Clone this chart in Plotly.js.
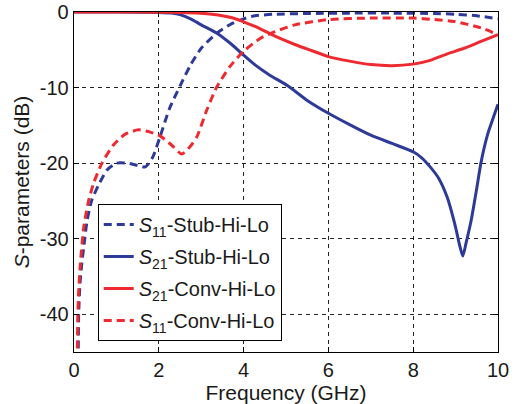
<!DOCTYPE html>
<html>
<head>
<meta charset="utf-8">
<script src="https://cdn.plot.ly/plotly-3.0.1.min.js"></script>
<style>html,body{margin:0;padding:0;background:#fff;}#chart{width:515px;height:404px;}</style>
</head>
<body>
<div id="chart"></div>
<script>
// S11 Stub-Hi-Lo (blue dashed)
const s11StubX = [0.09, 0.1, 0.11, 0.14, 0.18, 0.23, 0.31, 0.42, 0.58, 0.78, 1.01, 1.25, 1.5, 1.68, 1.85, 2.03, 2.25, 2.5, 2.75, 3.0, 3.37, 3.7, 4.0, 4.27, 4.7, 5.5, 6.5, 7.5, 8.5, 9.0, 9.5, 10];
const s11StubY = [-60, -45, -40, -36, -33.5, -31.1, -27.6, -24.9, -22.9, -20.9, -20.0, -20.0, -20.3, -20.5, -19.3, -16.5, -12.8, -9.8, -7.0, -4.8, -2.8, -1.6, -0.9, -0.5, -0.3, -0.2, -0.15, -0.15, -0.2, -0.3, -0.5, -0.9];
// S21 Stub-Hi-Lo (blue solid)
const s21StubX = [0, 1, 2, 2.3, 2.5, 2.75, 3.0, 3.37, 3.7, 4.0, 4.27, 4.6, 5.05, 5.5, 6.0, 6.5, 7.0, 7.5, 8.0, 8.2, 8.4, 8.6, 8.8, 9.0, 9.1, 9.17, 9.25, 9.37, 9.5, 9.6, 9.76, 9.9, 10];
const s21StubY = [0, 0, -0.05, -0.15, -0.35, -0.9, -1.7, -2.8, -4.2, -5.7, -7.0, -8.3, -9.8, -11.7, -13.4, -14.9, -16.3, -17.4, -18.5, -19.3, -20.5, -22.0, -24.5, -28.5, -31.0, -32.3, -30.5, -27.5, -23.3, -19.9, -16.1, -13.8, -12.2];
// S21 Conv-Hi-Lo (red solid)
const s21ConvX = [0, 1, 2, 2.5, 2.98, 3.4, 3.75, 4.0, 4.27, 4.74, 5.21, 5.6, 6.0, 6.5, 7.0, 7.5, 8.0, 8.4, 8.82, 9.2, 9.6, 10];
const s21ConvY = [0, 0, -0.02, -0.05, -0.15, -0.4, -0.8, -1.3, -1.9, -3.2, -4.3, -5.1, -5.9, -6.5, -6.95, -7.1, -6.9, -6.4, -5.5, -4.8, -3.9, -3.0];
// S11 Conv-Hi-Lo (red dashed)
const s11ConvX = [0.07, 0.08, 0.09, 0.11, 0.15, 0.23, 0.34, 0.46, 0.66, 0.93, 1.2, 1.52, 1.8, 2.03, 2.3, 2.54, 2.74, 2.9, 3.13, 3.37, 3.68, 4.0, 4.39, 4.74, 5.21, 6, 7, 8, 8.5, 8.97, 9.6, 10];
const s11ConvY = [-60, -45, -40, -37, -33.3, -28.5, -25.1, -22.7, -20.0, -17.6, -16.2, -15.6, -15.9, -16.4, -17.6, -18.8, -17.8, -16.5, -13.0, -9.9, -7.2, -5.2, -3.5, -2.6, -1.7, -1.0, -0.8, -0.8, -1.0, -1.25, -2.1, -3.0];

const seriesNames = [
  '<i>S</i><sub>11</sub>-Stub-Hi-Lo',
  '<i>S</i><sub>21</sub>-Stub-Hi-Lo',
  '<i>S</i><sub>21</sub>-Conv-Hi-Lo',
  '<i>S</i><sub>11</sub>-Conv-Hi-Lo'
];
const xTicks = [0, 2, 4, 6, 8, 10];
const yTicks = [0, -10, -20, -30, -40];

const blue = '#2E3A97';
const red = '#EC2A30';
const dashPat = '8px,5px';
const fontFam = 'Liberation Sans, Arial, sans-serif';

function tr(x, y, name, color, dash, grp) {
  return {
    x: x, y: y, name: name, type: 'scatter', mode: 'lines',
    line: {color: color, width: 3, dash: dash, shape: 'spline', smoothing: 0.6},
    legendgroup: grp, cliponaxis: true
  };
}

const data = [
  tr(s11StubX, s11StubY, seriesNames[0], blue, dashPat, 'a'),
  tr(s21StubX, s21StubY, seriesNames[1], blue, 'solid', 'b'),
  tr(s21ConvX, s21ConvY, seriesNames[2], red, 'solid', 'c'),
  tr(s11ConvX, s11ConvY, seriesNames[3], red, dashPat, 'd')
];

const axisCommon = {
  showline: true, linecolor: '#000', linewidth: 1.3, mirror: 'ticks',
  ticks: 'inside', ticklen: 5, tickcolor: '#000', tickwidth: 1,
  showgrid: true, gridcolor: '#222', gridwidth: 1, griddash: '4px,4px',
  zeroline: false,
  tickfont: {family: fontFam, size: 20, color: '#1a1a1a'}
};

const layout = {
  width: 515, height: 404,
  margin: {l: 74, r: 17, t: 12, b: 52},
  paper_bgcolor: '#fff', plot_bgcolor: '#fff',
  showlegend: true,
  xaxis: Object.assign({}, axisCommon, {
    range: [0, 10], tickvals: xTicks, ticktext: xTicks.map(String),
    title: {text: 'Frequency (GHz)', font: {family: fontFam, size: 21, color: '#1a1a1a'}, standoff: 4}
  }),
  yaxis: Object.assign({}, axisCommon, {
    range: [-45, 0], tickvals: yTicks, ticktext: yTicks.map(String),
    title: {text: '<i>S</i>-parameters (dB)', font: {family: fontFam, size: 21, color: '#1a1a1a'}, standoff: 4}
  }),
  legend: {
    x: 0.056, y: 0.435, xanchor: 'left', yanchor: 'top',
    bgcolor: '#fff', bordercolor: '#000', borderwidth: 1,
    traceorder: 'grouped', tracegroupgap: 3,
    font: {family: fontFam, size: 20, color: '#1a1a1a'}
  }
};

Plotly.newPlot('chart', data, layout, {displayModeBar: false, staticPlot: true});
</script>
</body>
</html>
